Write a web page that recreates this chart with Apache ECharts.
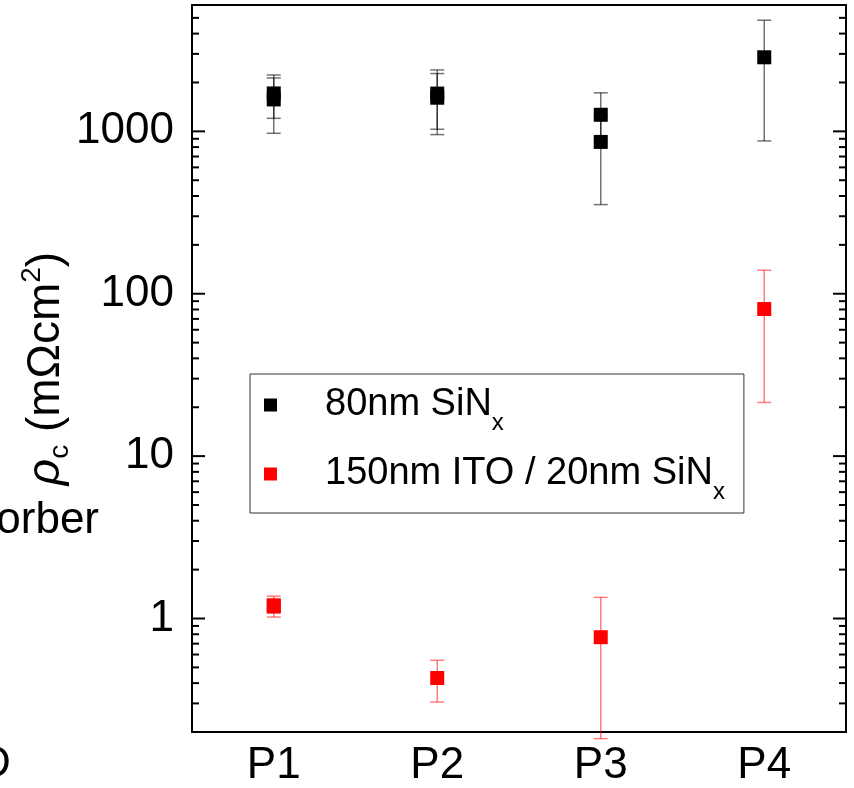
<!DOCTYPE html>
<html><head><meta charset="utf-8">
<script src="https://cdn.jsdelivr.net/npm/echarts@6/dist/echarts.min.js"></script>
<style>html,body{margin:0;padding:0;background:#fff}#c{width:854px;height:788px}</style>
</head><body><div id="c"></div>
<script>
const categories = ['P1', 'P2', 'P3', 'P4'];
// 80nm SiNx: category index, value, lower and upper error limits
const sinxIdx  = [0, 0, 1, 1, 2, 2, 3];
const sinxVal  = [1712, 1573, 1709, 1611, 1265, 861, 2858];
const sinxLow  = [973, 1203, 955, 1030, 870, 354, 873];
const sinxHigh = [2224, 2133, 2389, 2270, 1727, 1250, 4835];
// 150nm ITO / 20nm SiNx
const itoIdx  = [0, 0, 1, 2, 3];
const itoVal  = [1.20, 1.19, 0.430, 0.767, 80.5];
const itoLow  = [1.021, 1.078, 0.306, 0.182, 21.4];
const itoHigh = [1.373, 1.326, 0.553, 1.35, 139.5];
const yTickLabels = [1, 10, 100, 1000];
const yMin = 0.2, yMax = 6000;
const seriesNames = ['80nm SiNx', '150nm ITO / 20nm SiNx'];

const FONT = 'Liberation Sans, Arial, Helvetica, sans-serif';

// tick values for the log axis (major at decades, minor at 2..9)
const tickVals = [];
for (let e = -1; e <= 3; e++) {
  for (let k = 1; k <= 9; k++) {
    const v = k * Math.pow(10, e);
    if (v > yMin * 1.0001 && v < yMax * 0.9999) tickVals.push([0, v, k === 1 ? 1 : 0]);
  }
}

function pts(idx, val) { return idx.map((c, i) => [c, val[i]]); }
function errs(idx, val, lo, hi) { return idx.map((c, i) => [c, val[i], lo[i], hi[i]]); }

function errRender(color) {
  return function (params, api) {
    const x = api.value(0);
    const lo = api.coord([x, api.value(2)]);
    const hi = api.coord([x, api.value(3)]);
    const w = 7;
    const st = { stroke: color, lineWidth: 1.5 };
    return { type: 'group', children: [
      { type: 'line', shape: { x1: lo[0], y1: lo[1], x2: hi[0], y2: hi[1] }, style: st },
      { type: 'line', shape: { x1: lo[0] - w, y1: lo[1], x2: lo[0] + w, y2: lo[1] }, style: st },
      { type: 'line', shape: { x1: hi[0] - w, y1: hi[1], x2: hi[0] + w, y2: hi[1] }, style: st }
    ]};
  };
}

function tickRender(params, api) {
  const v = api.value(1);
  const major = api.value(2);
  const y = api.coord([0, v])[1];
  const cs = params.coordSys;
  const len = major ? 13 : 7;
  const st = { stroke: '#000', lineWidth: 2 };
  return { type: 'group', children: [
    { type: 'line', shape: { x1: cs.x, y1: y, x2: cs.x + len, y2: y }, style: st },
    { type: 'line', shape: { x1: cs.x + cs.width, y1: y, x2: cs.x + cs.width - len, y2: y }, style: st }
  ]};
}

const legendRich = {
  g: { width: 43, fontSize: 38, lineHeight: 60 },
  t: { fontSize: 38, lineHeight: 60, fontFamily: FONT, color: '#000' },
  s: { fontSize: 24, lineHeight: 10, fontFamily: FONT, color: '#000', verticalAlign: 'bottom' }
};

const chart = echarts.init(document.getElementById('c'), null, { renderer: 'canvas' });
chart.setOption({
  animation: false,
  backgroundColor: '#fff',
  textStyle: { fontFamily: FONT },
  grid: { left: 192, right: 8, top: 5, bottom: 52, containLabel: false },
  xAxis: [{
    type: 'category', data: categories, position: 'bottom',
    axisLine: { lineStyle: { color: '#000', width: 2 } },
    axisTick: { inside: true, alignWithLabel: true, length: 13, lineStyle: { color: '#000', width: 2 } },
    axisLabel: { fontSize: 44, color: '#000', fontFamily: FONT, margin: 12 },
    splitLine: { show: false }
  }, {
    type: 'category', data: categories, position: 'top',
    axisLine: { lineStyle: { color: '#000', width: 2 } },
    axisTick: { inside: true, alignWithLabel: true, length: 13, lineStyle: { color: '#000', width: 2 } },
    axisLabel: { show: false }, splitLine: { show: false }
  }],
  yAxis: [{
    type: 'log', min: yMin, max: yMax, logBase: 10, position: 'left',
    axisLine: { show: true, lineStyle: { color: '#000', width: 2 } },
    axisTick: { show: false }, splitLine: { show: false }, minorTick: { show: false },
    axisLabel: {
      fontSize: 44, color: '#000', fontFamily: FONT, margin: 18,
      showMinLabel: true, showMaxLabel: true,
      formatter: function (v) {
        const r = yTickLabels.find(t => Math.abs(v - t) / t < 1e-6);
        return r !== undefined ? String(r) : '';
      }
    },
    name: '{r|ρ}{c|c}{t| (mΩcm}{p|2}{t|)}',
    nameLocation: 'middle', nameGap: 118, nameRotate: 90, nameMoveOverlap: false,
    nameTextStyle: {
      rich: {
        r: { fontSize: 46, fontStyle: 'italic', fontFamily: FONT, color: '#000', lineHeight: 56 },
        c: { fontSize: 28, fontFamily: FONT, color: '#000', lineHeight: 28, verticalAlign: 'bottom' },
        t: { fontSize: 46, fontFamily: FONT, color: '#000', lineHeight: 56 },
        p: { fontSize: 28, fontFamily: FONT, color: '#000', lineHeight: 28, verticalAlign: 'top' }
      }
    }
  }, {
    type: 'log', min: yMin, max: yMax, logBase: 10, position: 'right',
    axisLine: { show: true, lineStyle: { color: '#000', width: 2 } },
    axisTick: { show: false }, axisLabel: { show: false }, splitLine: { show: false }
  }],
  legend: {
    data: seriesNames, orient: 'vertical', left: 250, top: 374,
    padding: [12, 19, 9, 14], itemGap: 20,
    borderColor: '#333', borderWidth: 1, backgroundColor: '#fff',
    icon: 'rect', itemWidth: 13, itemHeight: 13,
    selectedMode: false,
    textStyle: { rich: legendRich, fontSize: 38, color: '#000', fontFamily: FONT },
    formatter: function (name) {
      if (name === seriesNames[0]) return '{g| }{t|80nm SiN}{s|x}';
      return '{g| }{t|150nm ITO / 20nm SiN}{s|x}';
    }
  },
  series: [
    { name: 'err0', type: 'custom', renderItem: errRender('rgba(0,0,0,0.55)'), data: errs(sinxIdx, sinxVal, sinxLow, sinxHigh), z: 2, silent: true },
    { name: 'err1', type: 'custom', renderItem: errRender('rgba(255,0,0,0.5)'), data: errs(itoIdx, itoVal, itoLow, itoHigh), z: 2, silent: true },
    { name: seriesNames[0], type: 'scatter', symbol: 'rect', symbolSize: 14, itemStyle: { color: '#000', opacity: 1 }, data: pts(sinxIdx, sinxVal), z: 3 },
    { name: seriesNames[1], type: 'scatter', symbol: 'rect', symbolSize: 14, itemStyle: { color: '#ff0000', opacity: 1 }, data: pts(itoIdx, itoVal), z: 3 },
    { name: 'ticks', type: 'custom', renderItem: tickRender, data: tickVals, z: 4, silent: true }
  ],
  graphic: [
    { type: 'text', x: 99, y: 521, style: { text: 'Absorber', fontSize: 44, fontFamily: FONT, fill: '#000', align: 'right', verticalAlign: 'middle' } },
    { type: 'text', x: -21, y: 765, style: { text: 'D', fontSize: 44, fontFamily: FONT, fill: '#000', align: 'left', verticalAlign: 'middle' } }
  ]
});
</script>
</body></html>
